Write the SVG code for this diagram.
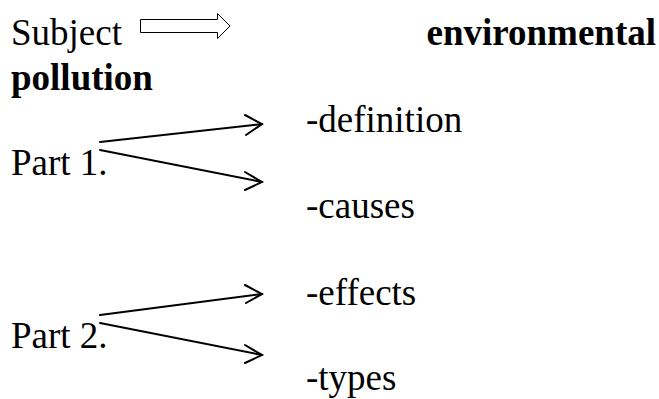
<svg xmlns="http://www.w3.org/2000/svg" width="659" height="399" viewBox="0 0 659 399">
  <style>
    .t { font-family: 'Liberation Serif', 'Times New Roman', Times, serif; font-size: 37px; fill: #000; }
    .b { font-weight: bold; }
    .link { fill: none; stroke: #000; stroke-width: 2; stroke-linecap: round; }
    .head { fill: none; stroke: #000; stroke-width: 2; stroke-linecap: round; stroke-linejoin: miter; }
  </style>
  <rect width="659" height="399" fill="#fff"/>

  <g id="subject">
    <text class="t" x="11" y="45">Subject</text>
  </g>
  <g id="topic">
    <text class="t b" x="656" y="45" text-anchor="end">environmental</text>
    <text class="t b" x="11" y="90">pollution</text>
  </g>

  <g id="part1">
    <text class="t" x="11" y="175">Part 1.</text>
  </g>
  <g id="definition"><text class="t" x="306" y="132">-definition</text></g>
  <g id="causes"><text class="t" x="306" y="218">-causes</text></g>

  <g id="part2">
    <text class="t" x="11" y="348">Part 2.</text>
  </g>
  <g id="effects"><text class="t" x="306" y="305">-effects</text></g>
  <g id="types"><text class="t" x="306" y="390">-types</text></g>

  <!-- hollow block arrow after "Subject" -->
  <g id="subject-arrow">
    <path d="M140.5,19.5 H217.5 V13.5 L230,26 L217.5,38.5 V32.5 H140.5 Z" fill="#fff" stroke="#000" stroke-width="1"/>
  </g>

  <g id="connectors">
    <line class="link" x1="100" y1="142" x2="262" y2="124"/>
    <polyline class="head" points="245,115 262,124 246,135"/>
    <line class="link" x1="100" y1="150" x2="262" y2="182"/>
    <polyline class="head" points="245,172 262,182 245,190"/>

    <line class="link" x1="100" y1="315" x2="262" y2="294"/>
    <polyline class="head" points="245,285 262,294 246,303"/>
    <line class="link" x1="100" y1="323" x2="262" y2="355"/>
    <polyline class="head" points="245,345 262,355 245,363"/>
  </g>
</svg>
